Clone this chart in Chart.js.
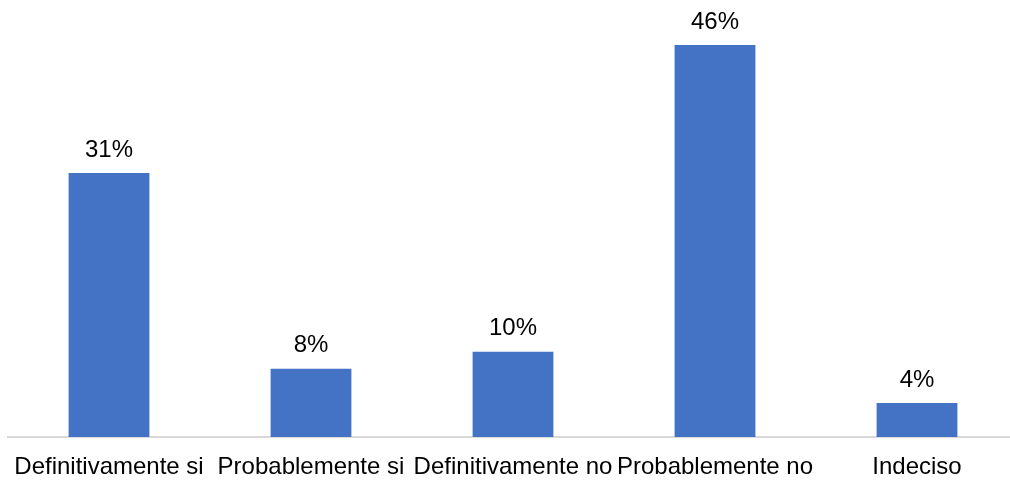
<!DOCTYPE html>
<html>
<head>
<meta charset="utf-8">
<script src="https://cdn.jsdelivr.net/npm/chart.js@4"></script>
<style>
  html, body { margin: 0; padding: 0; background: #fff; }
  #wrap { width: 1010px; height: 483px; overflow: hidden; }
  #inner { width: 1018px; height: 483px; }
</style>
</head>
<body>
<div id="wrap"><div id="inner"><canvas id="myChart"></canvas></div></div>
<script>
const categorias = [
  'Definitivamente si',
  'Probablemente si',
  'Definitivamente no',
  'Probablemente no',
  'Indeciso'
];
const porcentajes = [31, 8, 10, 46, 4];

const fuente = '"Liberation Sans", Arial, sans-serif';

// etiquetas encima de cada barra
const etiquetasBarras = {
  id: 'etiquetasBarras',
  afterDatasetsDraw(chart) {
    const ctx = chart.ctx;
    const meta = chart.getDatasetMeta(0);
    ctx.save();
    ctx.font = '24px ' + fuente;
    ctx.fillStyle = '#000';
    ctx.textAlign = 'center';
    ctx.textBaseline = 'middle';
    meta.data.forEach((bar, i) => {
      ctx.fillText(porcentajes[i] + '%', bar.x, bar.y - 23);
    });
    ctx.restore();
  }
};

const config = {
  type: 'bar',
  data: {
    labels: categorias,
    datasets: [{
      data: porcentajes,
      backgroundColor: '#4472C4',
      borderWidth: 0,
      categoryPercentage: 1,
      barPercentage: 0.4
    }]
  },
  options: {
    responsive: true,
    maintainAspectRatio: false,
    animation: false,
    layout: { padding: { top: 11, left: 8, right: 0, bottom: 0 } },
    plugins: {
      legend: { display: false },
      tooltip: { enabled: false }
    },
    scales: {
      x: {
        grid: { display: false, drawTicks: false },
        border: { display: true, color: '#d9d9d9', width: 2 },
        afterFit(scale) {
          scale.height = 46;
          scale.paddingLeft = 0;
          scale.paddingRight = 0;
        },
        ticks: {
          color: '#000',
          padding: 16,
          maxRotation: 0,
          autoSkip: false,
          font: { family: fuente, size: 24 }
        }
      },
      y: {
        display: false,
        min: 0,
        max: 50
      }
    }
  },
  plugins: [etiquetasBarras]
};

const myChart = new Chart(document.getElementById('myChart'), config);
</script>
</body>
</html>
